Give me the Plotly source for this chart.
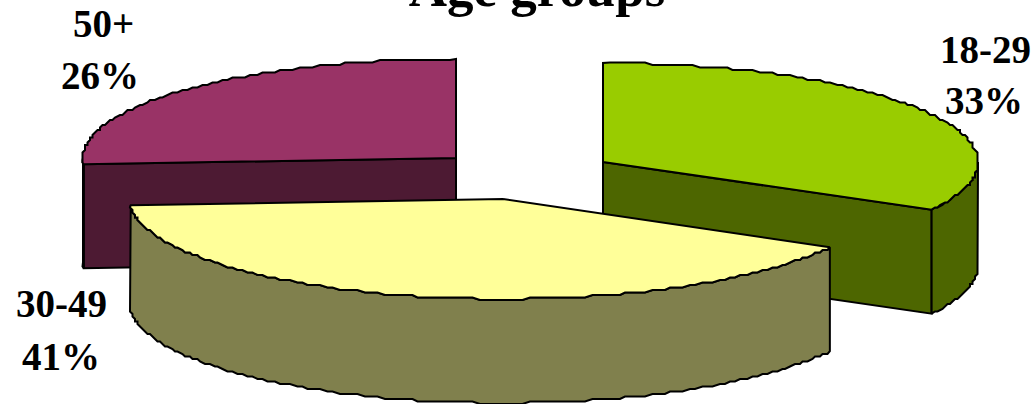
import math
import plotly.graph_objects as go

TITLE = "Age groups"
categories = ["18-29", "30-49", "50+"]
values = [33, 41, 26]
top_colors = ["#99CC00", "#FFFF99", "#993366"]
side_colors = ["#4D6600", "#80804D", "#4D1A33"]

# layout of the exploded 3D pie, in page pixels
apex = [(603, 162), (503, 199), (456, 158)]
radius_x = [375, 373, 373]
radius_y = [99, 100, 99]
DEPTH = 104
draw_order = [2, 0, 1]
label_pos = [((985, 49), (984, 100)), ((61, 303), (61, 356)), ((103, 23), (100, 75))]
W, H = 1036, 404
GRID = 2.5


def arc(i, a0, a1):
    """Outer-edge points between two clockwise-from-top angles, on a coarse pixel grid."""
    n = max(2, int(abs(a1 - a0) * radius_x[i] / 7))
    pts = []
    for k in range(n + 1):
        t = a0 + (a1 - a0) * k / n
        x = apex[i][0] + radius_x[i] * math.sin(t)
        y = apex[i][1] - radius_y[i] * math.cos(t)
        if 0 < k < n:
            x, y = round(x / GRID) * GRID, round(y / GRID) * GRID
        pts.append((x, y))
    return pts


def poly(fig, pts, color):
    fig.add_trace(go.Scatter(
        x=[p[0] for p in pts] + [pts[0][0]],
        y=[p[1] for p in pts] + [pts[0][1]],
        mode="lines", fill="toself", fillcolor=color,
        line=dict(color="black", width=2, shape="linear"),
        hoverinfo="skip", showlegend=False,
    ))


total = sum(values)
starts, running = [], 0
for v in values:
    starts.append(running / total * 2 * math.pi)
    running += v
ends = [s + v / total * 2 * math.pi for s, v in zip(starts, values)]

fig = go.Figure()
for i in draw_order:
    a0, a1 = starts[i], ends[i]
    c = apex[i]
    down = lambda pts: [(x, y + DEPTH) for x, y in pts]
    # flat cut faces that turn towards the viewer
    if i == 0:
        e = arc(i, a1, a1)[0]
        poly(fig, [c, e, (e[0], e[1] + DEPTH), (c[0], c[1] + DEPTH)], side_colors[i])
    if i == 2:
        e = arc(i, a0, a0)[0]
        poly(fig, [c, e, (e[0], e[1] + DEPTH), (c[0], c[1] + DEPTH)], side_colors[i])
    # outer rim: only the front half of the ellipse shows
    r0, r1 = max(a0, math.pi / 2), min(a1, 3 * math.pi / 2)
    if r1 > r0:
        rim = arc(i, r0, r1)
        poly(fig, rim + down(rim)[::-1], side_colors[i])
    # top face
    poly(fig, [c] + arc(i, a0, a1), top_colors[i])

annotations = []
for i, cat in enumerate(categories):
    for (x, y), text in zip(label_pos[i], (cat, f"{values[i]}%")):
        annotations.append(dict(
            x=x, y=y, text=f"<b>{text}</b>", xref="x", yref="y", showarrow=False,
            xanchor="center", yanchor="middle",
            font=dict(family="Liberation Serif", size=39, color="black"),
        ))

fig.update_layout(
    width=W, height=H,
    margin=dict(l=0, r=0, t=0, b=0),
    paper_bgcolor="white", plot_bgcolor="white",
    title=dict(
        text=f"<b>{TITLE}</b>", x=537 / W, xanchor="center",
        y=1 - 6 / H, yanchor="bottom", yref="container",
        font=dict(family="Liberation Serif", size=53, color="black"),
    ),
    xaxis=dict(range=[0, W], visible=False, fixedrange=True),
    yaxis=dict(range=[H, 0], visible=False, fixedrange=True),
    annotations=annotations,
)
fig.write_html(
    "out.html",
    config={"displayModeBar": False},
    post_script="document.body.style.margin='0';document.documentElement.style.overflow='hidden';",
)
